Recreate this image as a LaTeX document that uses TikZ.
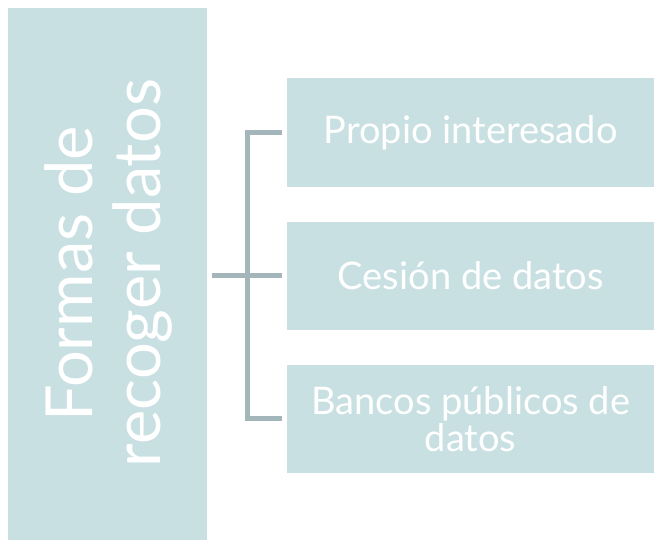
\documentclass[tikz,border=0pt]{standalone}
\usepackage{fontspec}
\setmainfont{Lato}
\definecolor{boxfill}{HTML}{C9E0E2}
\definecolor{linecol}{HTML}{A3B7BB}
\begin{document}
\begin{tikzpicture}[x=1pt,y=1pt,
  box/.style={fill=boxfill,draw=none,text=white,align=center,inner sep=0pt,anchor=south west,
    minimum width=367pt,minimum height=108pt,font=\fontsize{38}{37}\selectfont},
  bigtext/.style={text=white,rotate=90,anchor=base,inner sep=0pt,font=\fontsize{65}{68}\selectfont},
  conn/.style={draw=linecol,line width=5pt,line join=miter}]
\useasboundingbox (0,0) rectangle (654,540);
\node[fill=boxfill,inner sep=0pt,anchor=south west,minimum width=199pt,minimum height=532pt] (L) at (8,0) {};
\node[bigtext] (L1) at (92,266) {Formas de};
\node[bigtext] (L2) at (160,267) {recoger datos};
\node[box,minimum height=109pt] (A) at (287,353) {Propio interesado};
\node[box] (B) at (287,210) {Cesión de datos};
\node[box] (C) at (287,67) {Bancos públicos de\\datos};
\draw[conn] ([xshift=-5pt]A.west) -| ([xshift=-40pt]B.west) |- ([xshift=-5pt]C.west);
\draw[conn] ([xshift=5pt]L.east |- B.west) -- ([xshift=-5pt]B.west);
\end{tikzpicture}
\end{document}
